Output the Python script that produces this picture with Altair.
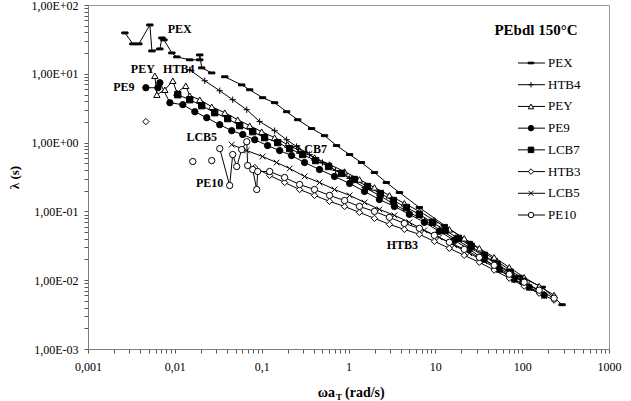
import altair as alt
import pandas as pd

FONT = "Liberation Serif"

series_names = ["PEX", "HTB4", "PEY", "PE9", "LCB7", "HTB3", "LCB5", "PE10"]

# None separates unconnected pieces of a series
PEX_x = [0.00266, 0.00329, 0.00385, 0.00516, 0.00545, 0.00673, 0.0071, 0.00749, 0.00925, 0.01055,
         0.01485, 0.01936, 0.01936, 0.0204, 0.0266, None, 0.0376, 0.0589, 0.0728, 0.1025, 0.141,
         0.194, 0.26, 0.376, 0.53, 0.728, 1.03, 1.41, 1.99, 2.73, 3.86, 6.55, 12.7, 24.6, 47.6,
         92.4, 170, 288]
PEX_y = [39.3, 27.2, 27.2, 51.3, 21.5, 23.0, 33.2, 31.1, 20.1, 17.6,
         15.96, 15.96, 18.8, 12.2, 10.3, None, 9.05, 6.9, 5.86, 4.49, 3.8,
         2.81, 2.15, 1.6, 1.26, 0.905, 0.67, 0.513, 0.367, 0.263, 0.188, 0.114, 0.0627, 0.0356, 0.0201,
         0.0114, 0.00792, 0.0044]

HTB4_x = [0.01485, 0.0221, 0.0329, 0.0464, 0.0673, 0.0948, 0.141, 0.194, 0.252, 0.356, 0.502, 0.71,
          1.03, 1.53, 2.27, 3.38, 5.02, 7.48, 11.1, 16.5, 24.6, 36.6, 54.4, 80.9, 120, 179]
HTB4_y = [11.43, 7.92, 5.67, 4.20, 3.01, 2.02, 1.49, 1.10, 0.875, 0.67, 0.513, 0.393,
          0.301, 0.223, 0.171, 0.126, 0.0967, 0.0741, 0.0548, 0.0406, 0.0301, 0.0223, 0.0160, 0.0114,
          0.00847, 0.00627]

PEY_x = [0.00589, 0.00621, 0.00767, 0.00948, 0.01055, 0.01336, 0.01485, 0.01936, 0.0266, 0.0376,
         0.053, 0.0728, 0.1, 0.141, 0.199, 0.2735, 0.406, 0.605, 0.90, 1.337, 1.99, 2.96, 4.40,
         6.55, 9.74, 14.5, 21.5, 32.1, 47.6, 71.0, 105.4, 156.8, 233]
PEY_y = [9.35, 4.96, 5.86, 7.92, 5.31, 6.70, 4.80, 4.20, 3.32, 2.72,
         2.15, 1.76, 1.44, 1.18, 0.935, 0.766, 0.607, 0.480, 0.380, 0.291, 0.223, 0.171, 0.131,
         0.1, 0.0741, 0.0548, 0.0406, 0.0291, 0.0215, 0.0154, 0.0110, 0.00818, 0.00607]

PE9_x = [0.00464, 0.00638, 0.00673, 0.00877, 0.01236, 0.0170, 0.0233, 0.0329, 0.0452, 0.0605,
         0.0832, 0.117, 0.161, 0.221, 0.312, 0.464, 0.69, 1.03, 1.53, 2.27, 3.38, 5.02, 7.48,
         11.1, 16.5, 24.6, 36.6, 54.4, 80.9, 120, 179]
PE9_y = [6.27, 6.27, 7.41, 3.80, 3.56, 2.81, 2.30, 1.82, 1.49, 1.31,
         1.10, 0.905, 0.766, 0.648, 0.513, 0.406, 0.322, 0.255, 0.195, 0.149, 0.118, 0.0906, 0.0693,
         0.0513, 0.0380, 0.0281, 0.0201, 0.0144, 0.0103, 0.00792, 0.00607]

LCB7_x = [0.01081, 0.01485, 0.0204, 0.0288, 0.0406, 0.0558, 0.0789, 0.108, 0.153, 0.21, 0.296,
          0.418, 0.589, 0.832, 1.17, 1.653, 2.33, 3.29, 4.64, 6.55, 9.24, 13.0, 18.4, 25.9, 36.6,
          51.6, 72.8, 102.6]
LCB7_y = [4.96, 4.20, 3.44, 2.72, 2.23, 1.76, 1.44, 1.18, 1.0, 0.818, 0.67,
          0.548, 0.449, 0.356, 0.291, 0.230, 0.182, 0.144, 0.114, 0.0906, 0.0693, 0.0531, 0.0406,
          0.0311, 0.0230, 0.0171, 0.0131, 0.00968]

HTB3_x = [0.00464, None, 0.0832, 0.1236, 0.1836, 0.2735, 0.406, 0.605, 0.90, 1.337, 1.99, 2.96,
          4.40, 6.55, 9.74, 14.5, 21.5, 32.1, 47.6, 71.0, 105.4, 156.8, 233]
HTB3_y = [2.02, None, 0.434, 0.333, 0.263, 0.208, 0.171, 0.140, 0.118, 0.0967, 0.0792, 0.0648,
          0.0548, 0.0464, 0.0367, 0.0291, 0.0230, 0.0182, 0.0140, 0.0107, 0.00818, 0.00648, 0.00513]

LCB5_x = [0.0452, 0.0673, 0.1025, 0.1486, 0.21, 0.312, 0.464, 0.69, 1.03, 1.53, 2.27, 3.38, 5.02,
          7.48, 11.1, 16.5, 24.6, 36.6, 54.4, 80.9, 120, 179]
LCB5_y = [0.935, 0.766, 0.627, 0.513, 0.420, 0.322, 0.263, 0.208, 0.171, 0.135, 0.107, 0.0876,
          0.0693, 0.0531, 0.0420, 0.0321, 0.0246, 0.0188, 0.0140, 0.0103, 0.00766, 0.00586]

PE10_x = [0.0161, None, 0.0266, None, 0.0329, 0.0428, 0.0464, 0.0516, 0.0589, 0.0673, 0.069,
          0.0789, 0.0877, 0.090, 0.1236, 0.1836, 0.2735, 0.406, 0.605, 0.90, 1.337, 1.99, 2.96,
          4.40, 6.55, 9.74, 14.5, 21.5, 32.1, 47.6, 71.0, 105.4, 156.8, 233]
PE10_y = [0.531, None, 0.548, None, 0.818, 0.238, 0.67, 0.449, 0.792, 1.03, 0.464,
          0.406, 0.208, 0.380, 0.380, 0.311, 0.246, 0.208, 0.171, 0.144, 0.118, 0.1, 0.0819,
          0.0670, 0.0567, 0.0449, 0.0356, 0.0281, 0.0215, 0.0165, 0.0122, 0.00935, 0.00716, 0.00548]

all_x = [PEX_x, HTB4_x, PEY_x, PE9_x, LCB7_x, HTB3_x, LCB5_x, PE10_x]
all_y = [PEX_y, HTB4_y, PEY_y, PE9_y, LCB7_y, HTB3_y, LCB5_y, PE10_y]

# in-plot annotations
ann_text = ["PEX", "PEY", "HTB4", "PE9", "LCB5", "PE10", "LCB7", "HTB3"]
ann_x = [0.0114, 0.00428, 0.0111, 0.00259, 0.0204, 0.0252, 0.376, 4.18]
ann_y = [44.9, 11.8, 11.8, 6.48, 1.22, 0.263, 0.818, 0.0321]

title_text = "PEbdl 150°C"

x_lab_vals = [0.001, 0.01, 0.1, 1, 10, 100, 1000]
x_lab_text = ["0,001", "0,01", "0,1", "1", "10", "100", "1000"]
y_lab_vals = [0.001, 0.01, 0.1, 1, 10, 100]
y_lab_text = ["1,00E-03", "1,00E-02", "1,00E-01", "1,00E+00", "1,00E+01", "1,00E+02"]

# ---- build tables ----
rows = []
for name, xs, ys in zip(series_names, all_x, all_y):
    seg = 0
    for i, (xv, yv) in enumerate(zip(xs, ys)):
        if xv is None:
            seg += 1
            continue
        rows.append({"series": name, "seg": f"{name}-{seg}", "idx": i, "x": xv, "y": yv})
df = pd.DataFrame(rows)
ann_df = pd.DataFrame({"label": ann_text, "x": ann_x, "y": ann_y})
leg_df = pd.DataFrame({"series": series_names})


def label_expr(vals, texts):
    e = "''"
    for v, t in zip(reversed(vals), reversed(texts)):
        e = f"abs(datum.value-{v})<{v}*1e-6 ? '{t}' : ({e})"
    return e


x_ticks = [k * 10 ** e for e in range(-3, 3) for k in range(1, 10)] + [1000]
y_ticks = [k * 10 ** e for e in range(-3, 2) for k in range(1, 10)] + [100]

AX = dict(grid=False, domainColor="#7f7f7f", tickColor="#555555", tickSize=4,
          labelFont=FONT, labelFontSize=12, labelColor="black")

X = alt.X("x:Q", scale=alt.Scale(type="log", domain=[0.001, 1000], nice=False),
          axis=alt.Axis(values=x_ticks, labelExpr=label_expr(x_lab_vals, x_lab_text),
                        title=None, labelPadding=8, labelFlush=False, **AX))
Y = alt.Y("y:Q", scale=alt.Scale(type="log", domain=[0.001, 100], nice=False),
          axis=alt.Axis(values=y_ticks, labelExpr=label_expr(y_lab_vals, y_lab_text),
                        title="λ (s)", titleFont=FONT, titleFontSize=13, titleFontWeight="bold",
                        titleColor="black", titleX=-74, titleY=172, titleAngle=270,
                        titleAlign="center", titleBaseline="middle",
                        labelPadding=6, labelFlush=False, **AX))

dash_path = "M-1,-0.3L1,-0.3L1,0.3L-1,0.3Z"
plus_path = "M-1,0L1,0M0,-1L0,1"
x_path = "M-0.9,-0.9L0.9,0.9M-0.9,0.9L0.9,-0.9"
shape_range = [dash_path, plus_path, "triangle-up", "circle", "square", "diamond", x_path, "circle"]
fill_range = ["black", "white", "white", "black", "black", "white", "white", "white"]
size_range = [40, 40, 50, 56, 46, 40, 32, 22]
leg_size_range = [40, 40, 42, 36, 30, 36, 30, 22]

shape_enc = alt.Shape("series:N", scale=alt.Scale(domain=series_names, range=shape_range), legend=None)
fill_enc = alt.Fill("series:N", scale=alt.Scale(domain=series_names, range=fill_range), legend=None)
size_enc = alt.Size("series:N", scale=alt.Scale(domain=series_names, range=size_range), legend=None)

lines = alt.Chart(df).mark_line(color="black", strokeWidth=1).encode(
    x=X, y=Y, detail="seg:N", order="idx:Q")
points = alt.Chart(df).mark_point(filled=True, stroke="black", strokeWidth=1, opacity=1).encode(
    x=X, y=Y, shape=shape_enc, fill=fill_enc, size=size_enc)
ann = alt.Chart(ann_df).mark_text(font=FONT, fontWeight="bold", fontSize=12, color="black").encode(
    x=X, y=Y, text="label:N")

main = alt.layer(lines, points, ann)

LY = alt.Y("series:N", scale=alt.Scale(type="point", domain=series_names, range=[58, 210], padding=0),
           axis=None)
leg_rules = alt.Chart(leg_df).mark_rule(color="black", strokeWidth=1).encode(
    x=alt.value(430), x2=alt.value(457), y=LY)
leg_pts = alt.Chart(leg_df).mark_point(filled=True, stroke="black", strokeWidth=1, opacity=1).encode(
    x=alt.value(443), y=LY, shape=shape_enc, fill=fill_enc)
leg_txt = alt.Chart(leg_df).mark_text(align="left", baseline="middle", font=FONT, fontSize=13,
                                      color="black").encode(x=alt.value(460), y=LY, text="series:N")
ttl = alt.Chart(pd.DataFrame({"t": [title_text]})).mark_text(
    align="center", baseline="middle", font=FONT, fontSize=15, fontWeight="bold", color="black").encode(
    x=alt.value(448), y=alt.value(25), text="t:N")

xt1 = alt.Chart(pd.DataFrame({"t": ["ωa"]})).mark_text(
    align="right", baseline="middle", font=FONT, fontSize=14, fontWeight="bold", color="black").encode(
    x=alt.value(247), y=alt.value(388), text="t:N")
xt2 = alt.Chart(pd.DataFrame({"t": ["T"]})).mark_text(
    align="left", baseline="middle", font=FONT, fontSize=9, fontWeight="bold", color="black").encode(
    x=alt.value(248), y=alt.value(392), text="t:N")
xt3 = alt.Chart(pd.DataFrame({"t": ["(rad/s)"]})).mark_text(
    align="left", baseline="middle", font=FONT, fontSize=14, fontWeight="bold", color="black").encode(
    x=alt.value(257), y=alt.value(388), text="t:N")

legend = alt.layer(leg_rules, leg_pts, leg_txt, ttl, xt1, xt2, xt3)

chart = alt.layer(main, legend).resolve_scale(y="independent").properties(
    width=521, height=344,
    padding={"left": 88, "top": 5, "right": 22, "bottom": 52},
    autosize=alt.AutoSizeParams(type="none"),
    background="white",
).configure_view(stroke="#999999", strokeWidth=1)

chart.save("out.html", embed_options={"renderer": "svg", "actions": False})
